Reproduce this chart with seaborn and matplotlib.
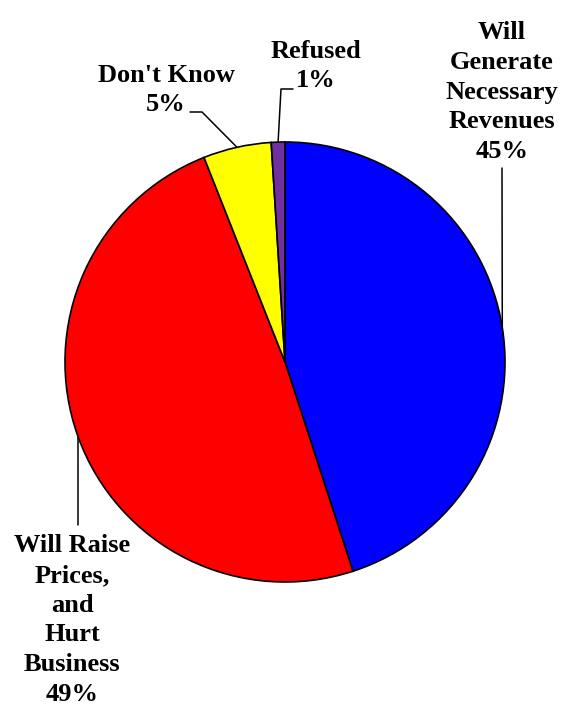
import seaborn as sns
import matplotlib.pyplot as plt
import numpy as np

# data
categories = ['Will\nGenerate\nNecessary\nRevenues', 'Will Raise\nPrices,\nand\nHurt\nBusiness',
              "Don't Know", 'Refused']
values = [45, 49, 5, 1]
colors = ['#0000FF', '#FF0000', '#FFFF00', '#7030A0']

sns.set_theme(style='white')
plt.rcParams['font.family'] = ['Liberation Serif', 'DejaVu Serif']

fig = plt.figure(figsize=(5.71, 7.19), dpi=100)
ax = fig.add_axes([0, 0, 1, 1])

cx, cy, r = 285, 719 - 362, 220
wedges, _ = ax.pie(values, colors=colors, startangle=90, counterclock=False,
                   center=(cx, cy), radius=r, frame=True,
                   wedgeprops=dict(edgecolor='black', linewidth=1.2))
ax.set_xlim(0, 571)
ax.set_ylim(0, 719)
ax.set_aspect('equal')
ax.axis('off')

# label anchor (text center) and leader path (in pixel coords from the top)
label_pos = [(502, 92), (72, 620), (166, 90), (316, 66)]
leader_mid = [(502, 168), (78, 525), (202, 112), (281, 89)]
leader_end = [None, None, (190, 112), (293, 89)]

for w, lab, v, pos, mid, end in zip(wedges, categories, values, label_pos, leader_mid, leader_end):
    ang = np.deg2rad((w.theta1 + w.theta2) / 2)
    ex, ey = cx + r * np.cos(ang), cy + r * np.sin(ang)
    xs = [ex, mid[0]]
    ys = [ey, 719 - mid[1]]
    if end is not None:
        xs.append(end[0])
        ys.append(719 - end[1])
    ax.plot(xs, ys, color='black', lw=1.1)
    ax.text(pos[0], 719 - pos[1], f'{lab}\n{v}%', ha='center', va='center',
            fontsize=19, fontweight='bold', linespacing=1.37, color='black')

fig.savefig('out.png', dpi=100)
